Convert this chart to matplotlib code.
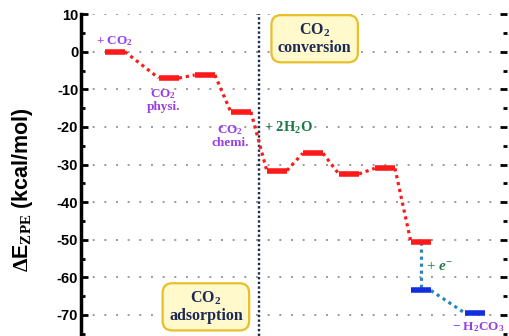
import matplotlib.pyplot as plt
from matplotlib.ticker import MultipleLocator

plt.rcParams["axes.unicode_minus"] = False
plt.rcParams["mathtext.fontset"] = "custom"
plt.rcParams["mathtext.rm"] = "Liberation Serif:bold"
plt.rcParams["mathtext.bf"] = "Liberation Serif:bold"
plt.rcParams["mathtext.it"] = "Liberation Serif:italic:bold"

# energy levels (kcal/mol) along the reaction path
red_x = [0, 1.5, 2.5, 3.5, 4.5, 5.5, 6.5, 7.5, 8.5]
red_E = [0, -7.0, -6.2, -16.0, -31.6, -27.0, -32.5, -31.0, -50.5]
blue_x = [8.5, 10.0]
blue_E = [-63.5, -69.5]
y_ticks = [10, 0, -10, -20, -30, -40, -50, -60, -70]

HW = 0.28
RED = "#ff1a1a"
BLUE = "#1030e0"
TEAL = "#2a86b8"
PURPLE = "#9a3ee0"
GREEN = "#1f7a4a"
NAVY = "#1c2a55"

fig = plt.figure(figsize=(5.09, 3.36), dpi=100)
ax = fig.add_axes([0.159, 0.0, 0.837, 0.958])


def draw_path(xs, es, lc, cc):
    for i, (x, e) in enumerate(zip(xs, es)):
        ax.plot([x - HW, x + HW], [e, e], color=lc, lw=4.0,
                solid_capstyle="butt", zorder=4)
        if i > 0:
            px, pe = xs[i - 1], es[i - 1]
            ax.plot([px + HW, x - HW], [pe, e], color=cc, lw=2.3,
                    ls=(0, (1, 1.2)), zorder=3)


draw_path(red_x, red_E, RED, RED)
draw_path(blue_x, blue_E, BLUE, TEAL)
# electron step from last red level to first blue level
ax.plot([red_x[-1], blue_x[0]], [red_E[-1], blue_E[0]], color=TEAL,
        lw=2.3, ls=(0, (1, 1.2)), zorder=3)

for t in y_ticks:
    ax.axhline(t, color="#999999", lw=1.4, ls=(0, (1, 5)), zorder=1)

ax.axvline(4.0, color=NAVY, lw=1.7, ls=(0, (1, 1)), zorder=2)

ax.set_xlim(-0.94, 10.89)
ax.set_ylim(-75.6, 10)
ax.set_xticks([])
ax.yaxis.set_major_locator(MultipleLocator(10))
ax.yaxis.set_minor_locator(MultipleLocator(5))
ax.tick_params(axis="y", which="both", direction="in", right=True, width=2,
               pad=2)
ax.tick_params(axis="y", which="major", length=5, labelsize=10.5)
ax.tick_params(axis="y", which="minor", length=3)
for lab in ax.get_yticklabels():
    lab.set_fontweight("bold")
    lab.set_family("Liberation Sans")
ax.spines["top"].set_visible(False)
ax.spines["bottom"].set_visible(False)
ax.spines["left"].set_linewidth(2.5)
ax.spines["right"].set_visible(False)
ax.set_ylabel("$\\Delta$E$_\\mathbf{ZPE}$ (kcal/mol)", fontsize=15.5,
              fontweight="bold", family="Liberation Sans")
ax.yaxis.set_label_coords(-0.108, 0.455)

serif = {"family": "Liberation Serif", "weight": "bold"}
ax.text(0.0, 2.0, "+ CO$_2$", color=PURPLE, fontsize=9.5, ha="center", **serif)
ax.text(1.35, -12.8, "CO$_2$\nphysi.", color=PURPLE, fontsize=9.5,
        ha="center", va="center", linespacing=1.0, **serif)
ax.text(3.2, -22.4, "CO$_2$\nchemi.", color=PURPLE, fontsize=9.5,
        ha="center", va="center", linespacing=1.0, **serif)
ax.text(4.15, -20.3, "+ 2H$_2$O", color=GREEN, fontsize=10.5,
        ha="left", va="center", **serif)
ax.text(8.65, -57.3, "+ $\\mathit{e}^{-}$", color=GREEN, fontsize=11,
        ha="left", va="center", family="Liberation Serif")
ax.text(10.1, -73.3, "\u2212 H$_2$CO$_3$", color=PURPLE,
        fontsize=9.5, ha="center", va="center", **serif)

box = dict(boxstyle="round,pad=0.4,rounding_size=0.6", fc="#fff9cc",
           ec="#e8bf2a", lw=1.6)
ax.text(5.55, 3.4, "CO$_2$\nconversion", color=NAVY, fontsize=11.5,
        ha="center", va="center", linespacing=1.05, bbox=box, **serif)
ax.text(2.53, -67.9, "CO$_2$\nadsorption", color=NAVY, fontsize=11.5,
        ha="center", va="center", linespacing=1.05, bbox=box, **serif)

fig.savefig("out.png", dpi=100)
